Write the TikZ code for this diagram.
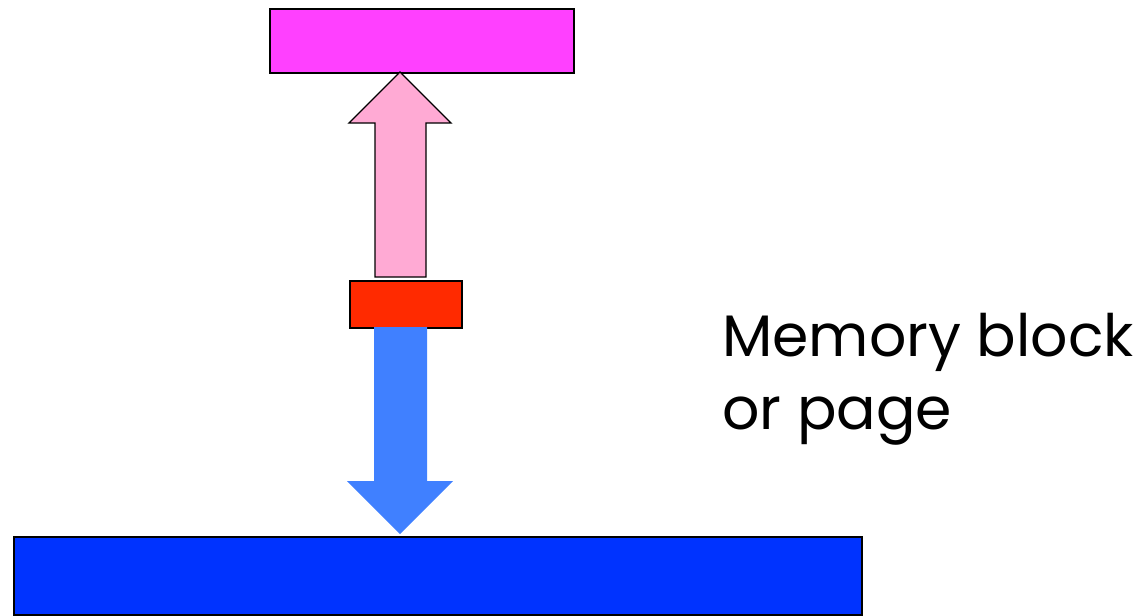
\documentclass[tikz,border=0pt]{standalone}
\usepackage{fontspec}
\setmainfont{Poppins}
\definecolor{magentab}{RGB}{255,64,255}
\definecolor{pinka}{RGB}{255,170,212}
\definecolor{redb}{RGB}{255,42,0}
\definecolor{bluea}{RGB}{64,128,255}
\definecolor{blueb}{RGB}{0,51,255}
\begin{document}
\begin{tikzpicture}[x=1pt,y=-1pt,
  blockbox/.style={draw=black,line width=1.6pt,inner sep=0pt,anchor=north west},
  bigarrow/.style={line width=1.4pt,line join=miter},
  labeltext/.style={anchor=base west,inner sep=0pt,font=\fontsize{58.5}{70}\selectfont}]
\useasboundingbox (0,0) rectangle (1141,616);
\node[blockbox,fill=magentab,minimum width=304pt,minimum height=64pt] (top) at (269,8) {};
\node[blockbox,fill=redb,minimum width=112pt,minimum height=47pt] (mid) at (349,280) {};
\node[blockbox,fill=blueb,minimum width=848pt,minimum height=78pt] (bot) at (13,536) {};
% pink up arrow from mid to top
\draw[bigarrow,draw=black,fill=pinka] (375,277) -- (375,123) -- (349,123) -- (400,72) -- (451,123) -- (426,123) -- (426,277) -- cycle;
% blue down arrow from mid to bot
\fill[bluea] (374,327) -- (374,481) -- (347,481) -- (400,534) -- (453,481) -- (427,481) -- (427,327) -- cycle;
\node[labeltext] (l1) at (722,356) {Memory block};
\node[labeltext] (l2) at (722,429) {or page};
\end{tikzpicture}
\end{document}
